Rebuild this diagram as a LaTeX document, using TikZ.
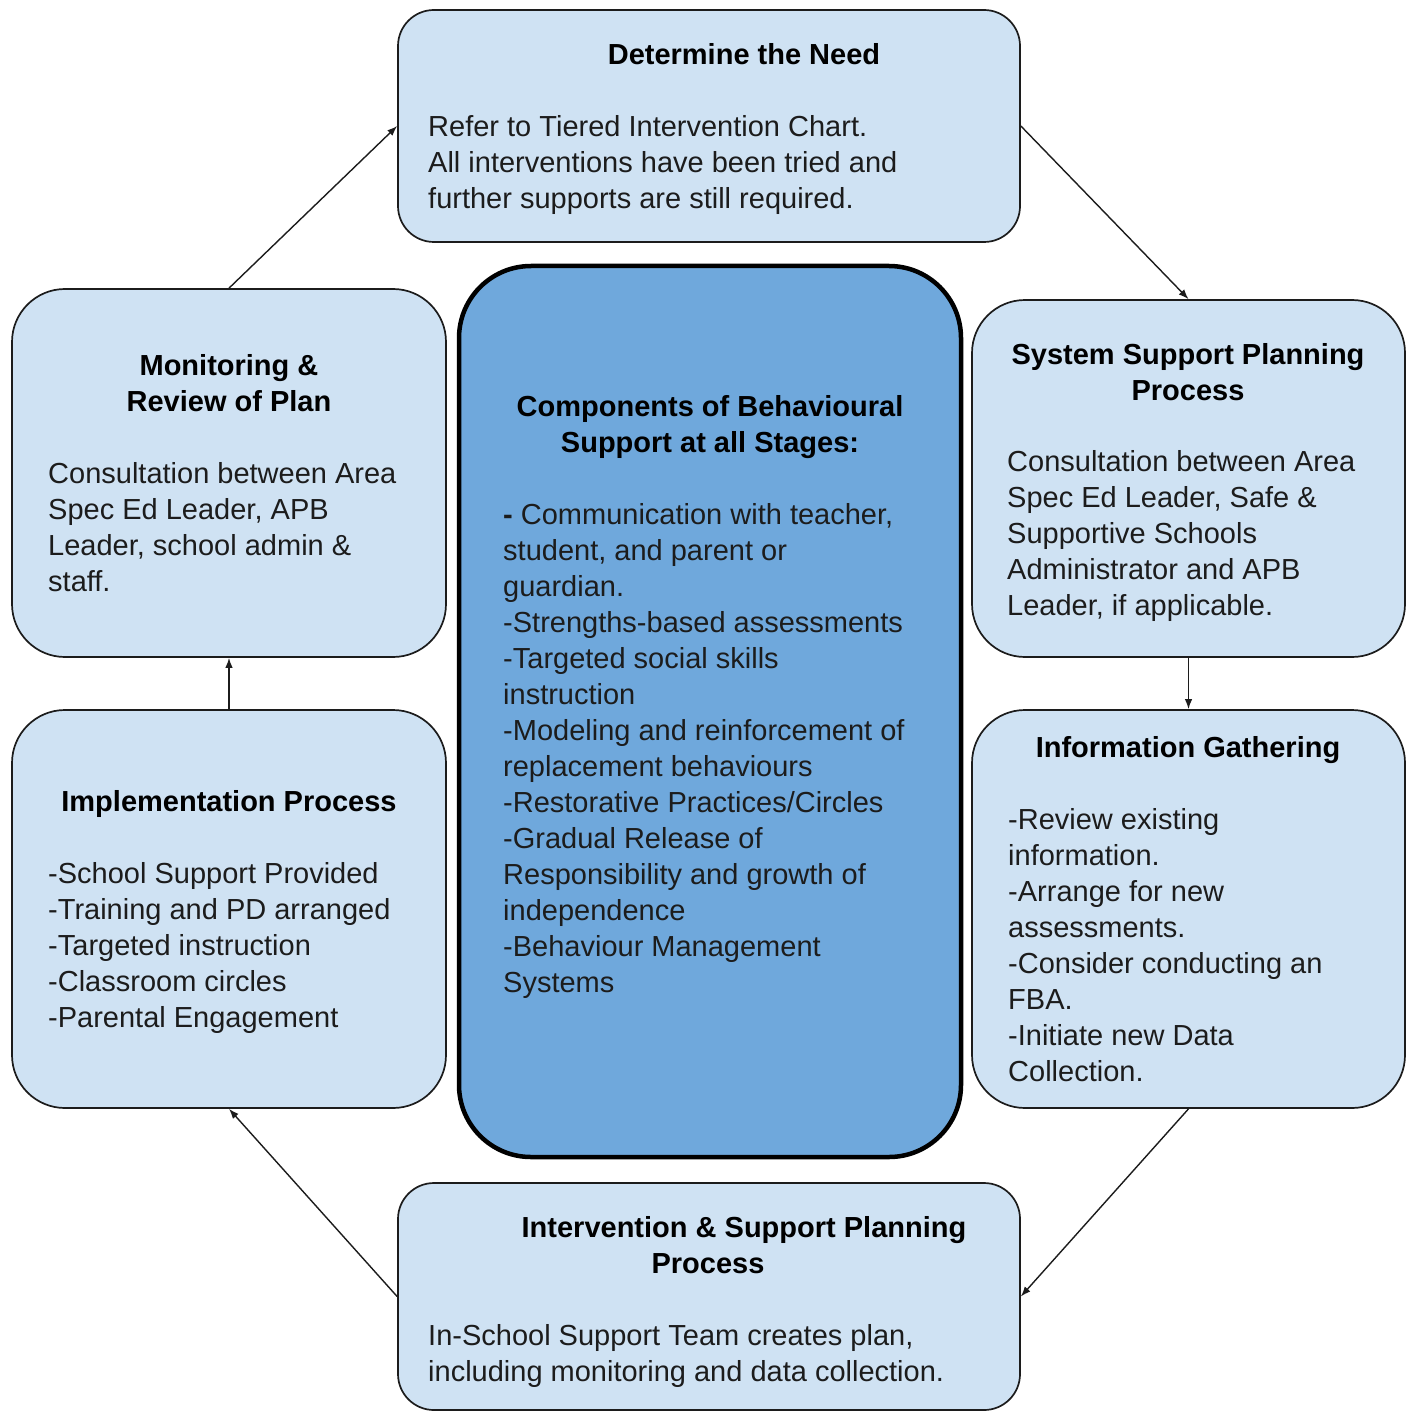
\documentclass[tikz,border=0pt]{standalone}
\usepackage{fontspec}
\setmainfont{Liberation Sans}
\usetikzlibrary{arrows.meta}
\definecolor{lb}{HTML}{CFE2F3}
\definecolor{mb}{HTML}{6FA8DC}
\definecolor{ink}{HTML}{1C1C1C}
\begin{document}
\begin{tikzpicture}[x=1pt,y=-1pt,
  sbox/.style={draw=ink, line width=1.7pt, fill=lb, inner sep=0pt, rounded corners=53pt},
  tbbox/.style={draw=ink, line width=1.7pt, fill=lb, inner sep=0pt, rounded corners=36pt},
  cbox/.style={draw=black, line width=4.5pt, fill=mb, inner sep=0pt, rounded corners=72pt},
  txt/.style={inner sep=0pt, text=ink, font=\fontsize{29}{36}\selectfont},
  hd/.style={inner sep=0pt, text=black, font=\fontsize{29}{36}\selectfont\bfseries},
  conn/.style={draw=ink, line width=1.4pt, -{Latex[length=10pt,width=7.5pt]}}]
\useasboundingbox (0,0) rectangle (1406,1412);
\fill[white] (0,0) rectangle (1406,1412);

% boxes
\node[tbbox, minimum width=622pt, minimum height=232pt] (need) at (709,126) {};
\node[sbox, minimum width=433pt, minimum height=357pt] (sys) at (1188.5,478.5) {};
\node[sbox, minimum width=433pt, minimum height=398pt] (info) at (1188.5,909) {};
\node[tbbox, minimum width=622pt, minimum height=227pt] (plan) at (709,1296.5) {};
\node[sbox, minimum width=434pt, minimum height=398pt] (impl) at (229,909) {};
\node[sbox, minimum width=434pt, minimum height=368pt] (mon) at (229,473) {};
\node[cbox, minimum width=502pt, minimum height=891pt] (comp) at (710,711.5) {};

% connectors
\draw[conn] (mon.north) -- (need.west);
\draw[conn] (need.east) -- (sys.north);
\draw[conn] (sys.south) -- (info.north);
\draw[conn] (info.south) -- (plan.east);
\draw[conn] (plan.west) -- (impl.south);
\draw[conn] (impl.north) -- (mon.south);

% Determine the Need
\node[hd, anchor=base] (needH) at (744,65) {Determine the Need};
\node[txt, anchor=base west] (needT) at (428,137) {\begin{tabular}[t]{@{}l@{}}Refer to Tiered Intervention Chart.\\All interventions have been tried and\\further supports are still required.\end{tabular}};

% System Support Planning Process
\node[hd, anchor=base] (sysH) at (1188,364) {\begin{tabular}[t]{@{}c@{}}System Support Planning\\Process\end{tabular}};
\node[txt, anchor=base west] (sysT) at (1007,471) {\begin{tabular}[t]{@{}l@{}}Consultation between Area\\Spec Ed Leader, Safe \&\\Supportive Schools\\Administrator and APB\\Leader, if applicable.\end{tabular}};

% Information Gathering
\node[hd, anchor=base] (infoH) at (1188,757) {Information Gathering};
\node[txt, anchor=base west] (infoT) at (1008,829) {\begin{tabular}[t]{@{}l@{}}-Review existing\\information.\\-Arrange for new\\assessments.\\-Consider conducting an\\FBA.\\-Initiate new Data\\Collection.\end{tabular}};

% Intervention & Support Planning Process
\node[hd, anchor=base] (planH1) at (744,1237) {Intervention \& Support Planning};
\node[hd, anchor=base] (planH2) at (708,1273) {Process};
\node[txt, anchor=base west] (planT) at (428,1345) {\begin{tabular}[t]{@{}l@{}}In-School Support Team creates plan,\\including monitoring and data collection.\end{tabular}};

% Implementation Process
\node[hd, anchor=base] (implH) at (229,811) {Implementation Process};
\node[txt, anchor=base west] (implT) at (48,883) {\begin{tabular}[t]{@{}l@{}}-School Support Provided\\-Training and PD arranged\\-Targeted instruction\\-Classroom circles\\-Parental Engagement\end{tabular}};

% Monitoring & Review of Plan
\node[hd, anchor=base] (monH) at (229,375) {\begin{tabular}[t]{@{}c@{}}Monitoring \&\\Review of Plan\end{tabular}};
\node[txt, anchor=base west] (monT) at (48,483) {\begin{tabular}[t]{@{}l@{}}Consultation between Area\\Spec Ed Leader, APB\\Leader, school admin \&\\staff.\end{tabular}};

% Components
\node[hd, anchor=base] (compH) at (710,416) {\begin{tabular}[t]{@{}c@{}}Components of Behavioural\\Support at all Stages:\end{tabular}};
\node[txt, anchor=base west] (compT) at (503,524) {\begin{tabular}[t]{@{}l@{}}{\bfseries -} Communication with teacher,\\student, and parent or\\guardian.\\-Strengths-based assessments\\-Targeted social skills\\instruction\\-Modeling and reinforcement of\\replacement behaviours\\-Restorative Practices/Circles\\-Gradual Release of\\Responsibility and growth of\\independence\\-Behaviour Management\\Systems\end{tabular}};
\end{tikzpicture}
\end{document}
